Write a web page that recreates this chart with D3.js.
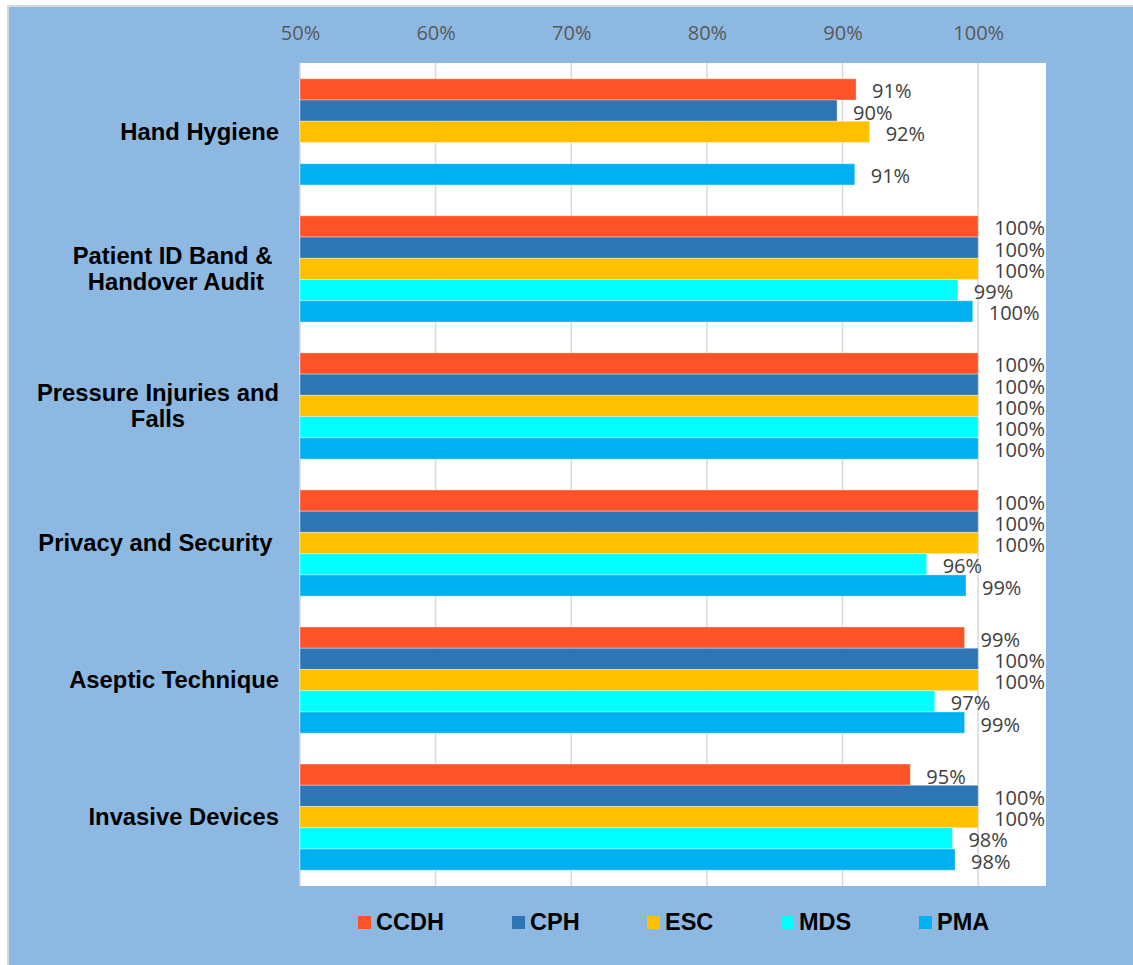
<!DOCTYPE html>
<html>
<head>
<meta charset="utf-8">
<script src="https://cdn.jsdelivr.net/npm/d3@7"></script>
<style>
  html, body { margin: 0; padding: 0; background: #fff; }
  .cat text { white-space: pre; }
</style>
</head>
<body>
<svg id="chart" width="1133" height="965"></svg>
<script>
// audit categories, top to bottom (trailing spaces as in the source sheet)
const categories = ["Hand Hygiene", "Patient ID Band & \nHandover Audit", "Pressure Injuries and\nFalls", "Privacy and Security ", "Aseptic Technique", "Invasive Devices"];
const seriesNames = ["CCDH", "CPH", "ESC", "MDS", "PMA"];
const seriesColors = ["#FF5229", "#2E75B6", "#FFC000", "#00FFFF", "#00B0F0"];
// values per series, in the order of categories (null = no result)
const CCDH = [91, 100, 100, 100, 99, 95];
const CPH  = [89.6, 100, 100, 100, 100, 100];
const ESC  = [92, 100, 100, 100, 100, 100];
const MDS  = [null, 98.5, 100, 96.2, 96.8, 98.1];
const PMA  = [90.9, 99.6, 100, 99.1, 99, 98.3];
const labelsCCDH = ["91%", "100%", "100%", "100%", "99%", "95%"];
const labelsCPH  = ["90%", "100%", "100%", "100%", "100%", "100%"];
const labelsESC  = ["92%", "100%", "100%", "100%", "100%", "100%"];
const labelsMDS  = [null, "99%", "100%", "96%", "97%", "98%"];
const labelsPMA  = ["91%", "100%", "100%", "99%", "99%", "98%"];
const xTicks = [50, 60, 70, 80, 90, 100];

const allValues = [CCDH, CPH, ESC, MDS, PMA];
const allLabels = [labelsCCDH, labelsCPH, labelsESC, labelsMDS, labelsPMA];

const svg = d3.select("#chart");

// outer frame
svg.append("rect")
  .attr("x", 8).attr("y", 6).attr("width", 1140).attr("height", 970)
  .attr("fill", "#8DB8E2").attr("stroke", "#D9D9D9").attr("stroke-width", 2);

const plot = {left: 300, right: 1046, top: 63, bottom: 886};

const x = d3.scaleLinear().domain([50, 105]).range([plot.left, plot.right]);
const y0 = d3.scaleBand().domain(d3.range(categories.length))
  .range([plot.top, plot.bottom]).paddingInner(0.225).paddingOuter(0.115);
const y1 = d3.scaleBand().domain(d3.range(seriesNames.length))
  .range([0, y0.bandwidth()]).padding(0);

// plot area
svg.append("rect")
  .attr("x", plot.left).attr("y", plot.top)
  .attr("width", plot.right - plot.left).attr("height", plot.bottom - plot.top)
  .attr("fill", "#fff");

// gridlines
svg.append("g").selectAll("line").data(xTicks.slice(1)).join("line")
  .attr("x1", d => x(d)).attr("x2", d => x(d))
  .attr("y1", plot.top).attr("y2", plot.bottom)
  .attr("stroke", "#D9D9D9").attr("stroke-width", 1.5);
svg.append("line")
  .attr("x1", plot.left).attr("x2", plot.left)
  .attr("y1", plot.top).attr("y2", plot.bottom)
  .attr("stroke", "#D9D9D9").attr("stroke-width", 1.5);

// top axis labels
const xAxis = d3.axisTop(x).tickValues(xTicks).tickFormat(d => d + "%").tickSize(0).tickPadding(0);
const ax = svg.append("g").attr("transform", "translate(0,40)").call(xAxis);
ax.select(".domain").remove();
ax.selectAll("text")
  .attr("dy", 0)
  .attr("font-family", "'Open Sans', sans-serif").attr("font-size", 20)
  .attr("fill", "#595959");

// bars
const groups = svg.append("g").selectAll("g").data(categories).join("g")
  .attr("transform", (d, i) => `translate(0,${y0(i)})`);

groups.each(function(cat, ci) {
  const g = d3.select(this);
  const rows = seriesNames.map((s, si) => ({si, v: allValues[si][ci], label: allLabels[si][ci]}))
    .filter(d => d.v != null);
  g.selectAll("rect").data(rows).join("rect")
    .attr("x", x(50))
    .attr("y", d => y1(d.si))
    .attr("width", d => x(d.v) - x(50))
    .attr("height", y1.bandwidth())
    .attr("fill", d => seriesColors[d.si])
    .attr("stroke", "rgba(255,255,255,0.35)").attr("stroke-width", 1);
  g.selectAll("text").data(rows).join("text")
    .attr("x", d => x(d.v) + 16)
    .attr("y", d => y1(d.si) + y1.bandwidth() / 2)
    .attr("dy", "0.45em")
    .attr("font-family", "'Open Sans', sans-serif").attr("font-size", 20)
    .attr("fill", "#404040")
    .text(d => d.label);
});

// category labels
const catG = svg.append("g").attr("class", "cat")
  .attr("font-family", "'Liberation Sans', Arial, sans-serif")
  .attr("font-size", 23.8).attr("font-weight", "bold").attr("fill", "#000");
categories.forEach((c, i) => {
  const lines = c.split("\n");
  const cy = y0(i) + y0.bandwidth() / 2;
  const t = catG.append("text").attr("text-anchor", "middle");
  lines.forEach((ln, li) => {
    t.append("tspan").attr("x", 0)
      .attr("y", cy + 8 + (li - (lines.length - 1) / 2) * 26.5).text(ln);
  });
  // right-align the block, lines centred inside it
  const w = t.node().getBBox().width;
  t.selectAll("tspan").attr("x", 279 - w / 2);
});

// legend
const legendX = [358, 512, 647, 781, 919];
const leg = svg.append("g").selectAll("g").data(seriesNames).join("g")
  .attr("transform", (d, i) => `translate(${legendX[i]},916)`);
leg.append("rect").attr("width", 13).attr("height", 13)
  .attr("fill", (d, i) => seriesColors[i]);
leg.append("text").attr("x", 18).attr("y", 14)
  .attr("font-family", "'Liberation Sans', Arial, sans-serif")
  .attr("font-size", 23.5).attr("font-weight", "bold").attr("fill", "#000")
  .text(d => d);
</script>
</body>
</html>
